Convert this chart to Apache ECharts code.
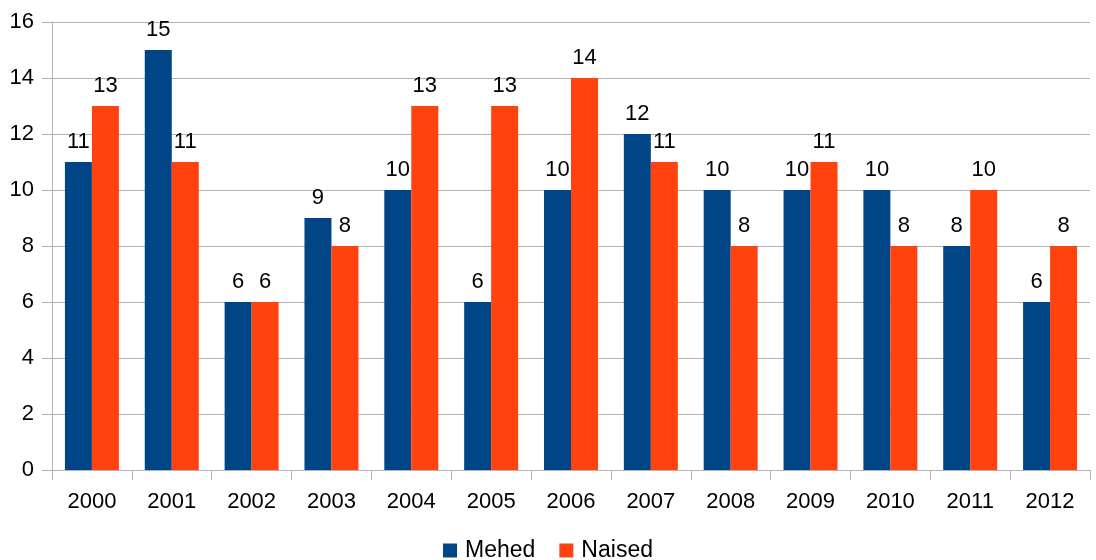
<!DOCTYPE html>
<html><head><meta charset="utf-8">
<script src="https://cdn.jsdelivr.net/npm/echarts@6/dist/echarts.min.js"></script>
<style>html,body{margin:0;padding:0;background:#fff}#c{width:1096px;height:560px}</style>
</head><body><div id="c"></div>
<script>
const categories = ['2000','2001','2002','2003','2004','2005','2006','2007','2008','2009','2010','2011','2012'];
const mehed = [11,15,6,9,10,6,10,12,10,10,10,8,6];
const naised = [13,11,6,8,13,13,14,11,8,11,8,10,8];
const seriesNames = ['Mehed','Naised'];
const chart = echarts.init(document.getElementById('c'));
const font = 'Liberation Sans';
const lbl = {show:true, position:'top', color:'#000', fontSize:22, fontFamily:font, distance:9};
chart.setOption({
  animation:false,
  textStyle:{fontFamily:font},
  grid:{left:52, right:6, top:22, bottom:90, containLabel:false},
  legend:{top:534, left:'center', itemWidth:14, itemHeight:14, itemGap:24, icon:'rect',
    textStyle:{fontSize:23, color:'#000', fontFamily:font, padding:[0,0,0,3]}, data:seriesNames},
  xAxis:{type:'category', data:categories,
    axisLine:{show:true, lineStyle:{color:'#b3b3b3'}},
    axisTick:{show:true, length:10, lineStyle:{color:'#b3b3b3'}},
    axisLabel:{color:'#000', fontSize:22, fontFamily:font, margin:21}},
  yAxis:{type:'value', min:0, max:16, interval:2,
    axisLine:{show:true, lineStyle:{color:'#b3b3b3'}},
    axisTick:{show:true, length:10, lineStyle:{color:'#b3b3b3'}},
    splitLine:{show:true, lineStyle:{color:'#b3b3b3'}},
    axisLabel:{color:'#000', fontSize:22, fontFamily:font, margin:18}},
  series:[
    {name:seriesNames[0], type:'bar', data:mehed, barWidth:27, barGap:'0%', itemStyle:{color:'#004586'}, label:lbl},
    {name:seriesNames[1], type:'bar', data:naised, barWidth:27, barGap:'0%', itemStyle:{color:'#ff420e'}, label:lbl}
  ]
});
</script></body></html>
